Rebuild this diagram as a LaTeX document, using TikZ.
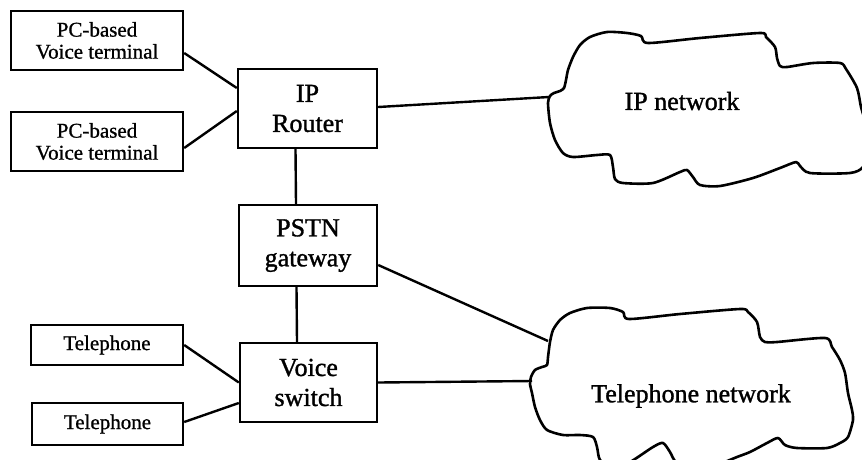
\documentclass[tikz,border=0pt]{standalone}
\usepackage{fontspec}
\setmainfont{Liberation Serif}
\newfontfamily\labelfont[FakeBold=1.2]{Liberation Serif}
\newfontfamily\smalllabelfont[FakeBold=0.9]{Liberation Serif}
\begin{document}
\begin{tikzpicture}[x=1pt,y=-1pt,
  line width=2.4pt,
  boxbig/.style={draw, line width=2.4pt, inner sep=0pt, align=center,
    font=\labelfont\fontsize{26}{30}\selectfont},
  boxsmall/.style={draw, line width=2.4pt, inner sep=0pt, align=center,
    font=\smalllabelfont\fontsize{21}{22}\selectfont},
  link/.style={line width=2.4pt},
  cloud/.style={line width=2.6pt, line join=round},
  cloudtext/.style={font=\labelfont\fontsize{26}{30}\selectfont, inner sep=0pt}]

\useasboundingbox[fill=white] (0,0) rectangle (862,459);
\clip (0,0) rectangle (862,459);

% terminals and switching equipment
\node[boxsmall, minimum width=172pt, minimum height=59pt] (pc1) at (97,40.5) {PC-based\\Voice terminal};
\node[boxsmall, minimum width=172pt, minimum height=59pt] (pc2) at (97,141.5) {PC-based\\Voice terminal};
\node[boxbig, minimum width=139pt, minimum height=79pt] (router) at (307.5,108.5) {IP\\Router};
\node[boxbig, minimum width=138pt, minimum height=81pt] (gw) at (308,245.5) {PSTN\\gateway};
\node[boxbig, minimum width=137pt, minimum height=79pt] (switch) at (308.5,382.5) {Voice\\switch};
\node[boxsmall, minimum width=152pt, minimum height=40pt] (tel1) at (107,345) {Telephone};
\node[boxsmall, minimum width=151pt, minimum height=42pt] (tel2) at (107.5,424) {Telephone};

% IP network cloud
\draw[cloud] plot[smooth cycle, tension=0.45] coordinates {
  (548,103) (550,96) (554,93) (560,91) (564,88) (566,80) (568,70) (573,57)
  (580,45) (590,37) (607,32) (627,33) (641,36) (648,43) (700,38) (760,33)
  (766,37) (775,47) (777,58) (780,66) (787,67) (813,63) (840,63) (846,69)
  (857,88) (861,107) (866,125) (868,150) (863,167) (850,173) (810,173)
  (800,166) (796,162) (780,168) (753,178) (720,186) (700,185) (693,177)
  (687,170) (680,172) (653,183) (623,183) (615,179) (613,167) (610,155)
  (597,155) (573,157) (563,153) (555,140) (550,123)};
\node[cloudtext] (ipnet) at (682,101) {IP network};
\coordinate (ipin) at (549,97);

% telephone network cloud
\draw[cloud] plot[smooth cycle, tension=0.45] coordinates {
  (531,377) (535,370) (542,367) (547,365) (548,357) (550,342) (553,330)
  (560,320) (570,313) (587,308) (610,308) (623,312) (629,319) (680,314)
  (740,309) (748,312) (757,322) (760,337) (765,342) (777,342) (825,338)
  (832,347) (840,360) (845,373) (848,393) (852,410) (853,420) (848,437)
  (840,443) (827,448) (797,448) (785,445) (778,438) (767,443) (750,452)
  (737,457) (720,464) (700,472) (677,463) (670,452) (663,443) (653,447)
  (630,462) (612,468) (600,460) (597,447) (593,437) (580,435) (563,435)
  (547,430) (540,420) (535,407) (532,393) (530,384)};
\node[cloudtext] (telnet) at (691,396) {Telephone network};
\coordinate (telin1) at (548,341);
\coordinate (telin2) at (532,381);

% connections
\draw[link] ([yshift=-12.5pt]pc1.east) -- ([yshift=20.5pt]router.west);
\draw[link] ([yshift=-6.5pt]pc2.east) -- ([yshift=-2.5pt]router.west);
\draw[link] ([yshift=1.5pt]router.east) -- (ipin);
\draw[link] ([xshift=-12pt]router.south) -- ([xshift=-12pt]gw.north);
\draw[link] ([yshift=-19.5pt]gw.east) -- (telin1);
\draw[link] ([xshift=-11.5pt]gw.south) -- ([xshift=-11.5pt]switch.north);
\draw[link] (tel1.east) -- (switch.west);
\draw[link] ([yshift=2pt]tel2.east) -- ([yshift=-20.5pt]switch.west);
\draw[link] (switch.east) -- (telin2);
\end{tikzpicture}
\end{document}
